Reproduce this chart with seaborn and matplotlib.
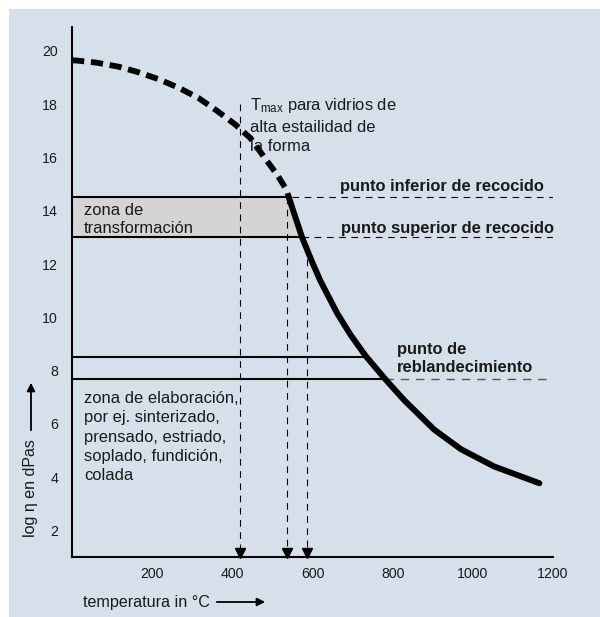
import matplotlib.pyplot as plt
import numpy as np
import pandas as pd
import seaborn as sns
from matplotlib.patches import Rectangle
from matplotlib.transforms import offset_copy

sns.set_theme(style="white")
plt.rcParams['font.family'] = ['Liberation Sans', 'DejaVu Sans']
plt.rcParams['mathtext.fontset'] = 'custom'
plt.rcParams['mathtext.rm'] = 'Liberation Sans'

BG = '#d6e0ea'
BAND = '#d4d4d4'
TXT = '#1a1a1a'

# viscosity curve (temperature in C, log eta in dPas)
temp_glass = [0, 12, 62, 116, 166, 216, 266, 316, 362, 408, 445, 478, 512, 535, 541]
visc_glass = [19.65, 19.64, 19.56, 19.41, 19.2, 18.94, 18.62, 18.23, 17.75, 17.23,
              16.73, 16.04, 15.35, 14.79, 14.5]
temp_melt = [541, 574, 599, 620, 662, 695, 732, 782, 828, 903, 970, 1053, 1166]
visc_melt = [14.5, 13.0, 12.08, 11.36, 10.14, 9.34, 8.56, 7.67, 6.9, 5.79, 5.05,
             4.4, 3.77]

# reference levels
lower_anneal = 14.5
upper_anneal = 13.0
work_top = 8.5
softening = 7.7

# marked temperatures and where their dashed lines start
mark_temps = [420, 537, 587]
mark_tops = [18.0, 14.5, 12.2]

x_ticks = [200, 400, 600, 800, 1000, 1200]
y_ticks = [2, 4, 6, 8, 10, 12, 14, 16, 18, 20]

df_glass = pd.DataFrame({'temp': temp_glass, 'visc': visc_glass})
df_melt = pd.DataFrame({'temp': temp_melt, 'visc': visc_melt})

all_t = np.array(temp_glass + temp_melt[1:])
all_v = np.array(visc_glass + visc_melt[1:])


def curve_temp(level):
    # temperature where the curve reaches a given log eta
    return np.interp(level, all_v[::-1], all_t[::-1])


fig = plt.figure(figsize=(6, 6.17), dpi=100)
fig.patch.set_facecolor('white')
fig.patches.append(Rectangle((9 / 600, 0), 1, 608 / 617, transform=fig.transFigure,
                             facecolor=BG, edgecolor='none', zorder=-10))
ax = fig.add_axes([72 / 600, 60 / 617, 481 / 600, 530 / 617])
ax.patch.set_visible(False)

# transformation zone band
yy = np.linspace(upper_anneal, lower_anneal, 30)
ax.fill_betweenx(yy, 0, curve_temp(yy), color=BAND, lw=0, zorder=1)

# horizontal lines: solid up to the curve, dashed beyond
for lvl in [lower_anneal, upper_anneal, work_top, softening]:
    ax.plot([0, curve_temp(lvl)], [lvl, lvl], color='black', lw=1.5, zorder=2)
ax.plot([curve_temp(lower_anneal) + 8, 1200], [lower_anneal] * 2, color='black',
        lw=0.8, ls=(0, (6, 5)), zorder=2)
ax.plot([curve_temp(upper_anneal), 1200], [upper_anneal] * 2, color='black',
        lw=0.8, ls=(0, (6, 5)), zorder=2)
ax.plot([curve_temp(softening), 1200], [softening] * 2, color='#555555',
        lw=1.0, ls=(0, (6, 5)), zorder=2)

# vertical dashed lines with arrow heads at the axis
for t, top in zip(mark_temps, mark_tops):
    ax.plot([t, t], [top, 1.3], color='black', lw=0.8, ls=(0, (6, 5)), zorder=2)
tr = offset_copy(ax.transData, fig=fig, y=4.5, units='dots')
ax.plot(mark_temps, [1.0] * len(mark_temps), ls='none', marker='v', ms=7,
        color='black', transform=tr, clip_on=False, zorder=4)

# viscosity curve
sns.lineplot(data=df_glass, x='temp', y='visc', ax=ax, color='black', lw=4.2,
             estimator=None, sort=False, zorder=3)
ax.lines[-1].set_linestyle((0, (2.1, 1.15)))
ax.lines[-1].set_dash_capstyle('butt')
sns.lineplot(data=df_melt, x='temp', y='visc', ax=ax, color='black', lw=4.3,
             estimator=None, sort=False, zorder=3)
ax.lines[-1].set_solid_joinstyle('round')

ax.set_xlim(0, 1200)
ax.set_ylim(1.0, 20.9)
ax.set_xticks(x_ticks)
ax.set_yticks(y_ticks)
ax.set_xlabel('')
ax.set_ylabel('')
for side in ['top', 'right']:
    ax.spines[side].set_visible(False)
for side in ['left', 'bottom']:
    ax.spines[side].set_linewidth(1.5)
    ax.spines[side].set_color('black')
ax.tick_params(axis='both', direction='in', length=6.5, width=1.5, colors='black',
               labelsize=10.2, labelcolor=TXT)
ax.tick_params(axis='y', pad=10)
ax.tick_params(axis='x', pad=7)

fs = 11.9
ls = 1.36
ax.text(445, 18.3, '$\\mathregular{T_{max}}$ para vidrios de\nalta estailidad de\nla forma',
        fontsize=fs, va='top', ha='left', linespacing=ls, color=TXT)
ax.text(30, 14.3, 'zona de\ntransformación', fontsize=fs, va='top', ha='left',
        linespacing=1.25, color=TXT)
ax.text(30, 7.23, 'zona de elaboración,\npor ej. sinterizado,\nprensado, estriado,\n'
        'soplado, fundición,\ncolada', fontsize=fs, va='top', ha='left',
        linespacing=ls, color=TXT)
ax.text(668, 14.9, 'punto inferior de recocido', fontsize=fs, fontweight='bold',
        va='center', ha='left', color=TXT)
ax.text(672, 13.33, 'punto superior de recocido', fontsize=fs, fontweight='bold',
        va='center', ha='left', color=TXT)
ax.text(810, 8.45, 'punto de\nreblandecimiento', fontsize=fs, fontweight='bold',
        va='center', ha='left', linespacing=1.3, color=TXT)

# axis labels with arrows
fig.text(31 / 600, 80 / 617, 'log η en dPas', rotation=90, ha='center', va='bottom',
         fontsize=11.5, color=TXT)
ax.annotate('', xy=(31 / 600, 237 / 617), xytext=(31 / 600, 184 / 617),
            xycoords='figure fraction', textcoords='figure fraction',
            arrowprops=dict(arrowstyle='-|>', color='black', lw=1.3, mutation_scale=12))
fig.text(83 / 600, 15 / 617, 'temperatura in °C', ha='left', va='center',
         fontsize=11.6, color=TXT)
ax.annotate('', xy=(268 / 600, 15 / 617), xytext=(214 / 600, 15 / 617),
            xycoords='figure fraction', textcoords='figure fraction',
            arrowprops=dict(arrowstyle='-|>', color='black', lw=1.3, mutation_scale=12))

fig.savefig('out.png', dpi=100, facecolor=fig.get_facecolor())
